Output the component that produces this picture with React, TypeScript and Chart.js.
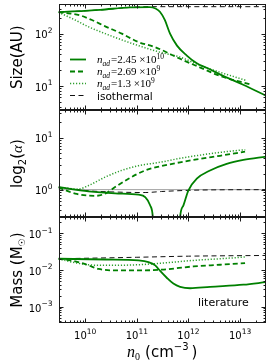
import React, { useEffect, useRef } from 'react';
import { Chart, registerables } from 'chart.js';

Chart.register(...registerables);

// ---------- axis ranges ----------
const X_MIN = 3.04e9;
const X_MAX = 3.18e13;
const SIZE_MIN = 3.39;
const SIZE_MAX = 369;
const ALPHA_MIN = 0.301;
const ALPHA_MAX = 33.2;
const MASS_MIN = 3.55e-4;
const MASS_MAX = 0.283;

// ---------- tick exponents ----------
const xTickExps = [10, 11, 12, 13];
const sizeTickExps = [1, 2];
const alphaTickExps = [0, 1];
const massTickExps = [-3, -2, -1];

// ---------- legend ----------
const legendMantissa = ['2.45', '2.69', '1.3'];
const legendExp = ['10', '9', '9'];
const legendIso = 'isothermal';
const annotationText = 'literature';

// ---------- Size (AU) panel ----------
const sizeSolidN = [3.04e9, 1.95e10, 7.4e10, 1.8e11, 2.3e11, 2.8e11, 3.5e11, 4.4e11, 6.0e11, 9.3e11, 1.45e12, 2.3e12, 4.7e12, 1.15e13, 3.18e13];
const sizeSolidV = [257, 285, 318, 322, 302, 262, 181, 100, 59, 38, 27, 22, 15.5, 10.5, 6.5];
const sizeDashN = [3.04e9, 4.7e9, 7.9e9, 1.35e10, 2.44e10, 5.1e10, 1.07e11, 2.27e11, 6.9e11, 1.7e12, 4.1e12, 1.55e13];
const sizeDashV = [257, 245, 224, 182, 138, 100, 69, 55, 33, 22.4, 15.5, 10.7];
const sizeDotN = [3.04e9, 4.1e9, 6.4e9, 1.16e10, 2.44e10, 5.1e10, 1.07e11, 2.83e11, 6.9e11, 1.7e12, 4.1e12, 1.35e13];
const sizeDotV = [257, 224, 182, 135, 100, 76, 59, 44, 35.5, 24.5, 18.2, 12.6];
const sizeIsoN = [3.04e9, 1.95e10, 7.4e10, 1.8e11, 3.18e13];
const sizeIsoV = [257, 285, 318, 328, 328];

// ---------- log2(alpha) panel ----------
const alphaSolidN = [3.04e9, 1.16e10, 3.8e10, 1.08e11, 1.45e11, 1.81e11, 2.04e11, 2.14e11, 4.0e11, 6.6e11, 6.9e11, 8.0e11, 1.0e12, 1.45e12, 2.62e12, 5.5e12, 1.16e13, 3.18e13];
const alphaSolidV = [1.12, 0.93, 0.85, 0.8, 0.72, 0.5, 0.3, 0.12, null, 0.12, 0.3, 0.5, 0.97, 1.62, 2.33, 3.12, 3.72, 4.3];
const alphaDashN = [3.04e9, 6.4e9, 1.56e10, 2.44e10, 3.8e10, 6.9e10, 1.45e11, 2.95e11, 6.9e11, 1.68e12, 4.1e12, 1.25e13];
const alphaDashV = [1.1, 0.84, 0.76, 0.84, 1.12, 1.62, 2.34, 2.82, 3.35, 3.9, 4.47, 5.35];
const alphaDotN = [3.04e9, 7.4e9, 1.16e10, 2.44e10, 5.1e10, 1.08e11, 2.83e11, 6.9e11, 1.68e12, 4.1e12, 1.26e13];
const alphaDotV = [1.1, 1.03, 1.2, 1.74, 2.34, 2.88, 3.35, 4.0, 4.6, 5.2, 5.85];
const alphaIsoN = [3.04e9, 1.16e10, 3.8e10, 1.45e11, 3.0e11, 1.0e12, 3.0e12, 3.18e13];
const alphaIsoV = [1.12, 0.95, 0.9, 0.88, 0.92, 0.97, 0.99, 1.0];
const alphaRefN = [3.04e9, 3.18e13];
const alphaRefV = [1, 1];

// ---------- Mass panel ----------
const massSolidN = [3.04e9, 2.44e10, 1.08e11, 1.68e11, 2.27e11, 2.83e11, 3.8e11, 5.1e11, 6.9e11, 1.08e12, 2.62e12, 1.16e13, 3.18e13];
const massSolidV = [0.0204, 0.0195, 0.0184, 0.0166, 0.0135, 0.0095, 0.0062, 0.0043, 0.0035, 0.0032, 0.0035, 0.004, 0.0047];
const massDashN = [3.04e9, 6.4e9, 1.16e10, 1.81e10, 3.8e10, 1.08e11, 3.05e11, 1.25e12, 4.1e12, 1.25e13];
const massDashV = [0.0204, 0.0174, 0.0135, 0.0108, 0.0098, 0.0098, 0.0103, 0.0126, 0.014, 0.0155];
const massDotN = [3.04e9, 5.5e9, 1.16e10, 2.44e10, 1.08e11, 3.53e11, 1.25e12, 4.1e12, 1.26e13];
const massDotV = [0.0204, 0.0166, 0.014, 0.0135, 0.014, 0.0158, 0.0184, 0.0204, 0.0228];
const massIsoN = [3.04e9, 1e11, 1e12, 3.18e13];
const massIsoV = [0.0204, 0.0224, 0.024, 0.0251];

// ---------- styles ----------
const GREEN = '#008000';
const STYLE = {
  solid: { borderColor: GREEN, borderWidth: 1.8, borderDash: [] as number[] },
  dashed: { borderColor: GREEN, borderWidth: 1.8, borderDash: [5, 3] },
  dotted: { borderColor: '#2e9e2e', borderWidth: 1.5, borderDash: [1.2, 1.8] },
  iso: { borderColor: '#111111', borderWidth: 1, borderDash: [5, 3.5] },
  ref: { borderColor: '#a0a0a0', borderWidth: 1, borderDash: [] as number[] },
};

const SANS = '"DejaVu Sans"';
const SERIF = '"Liberation Serif"';

function mk(n: number[], v: (number | null)[], yAxisID: string, style: any, order: number) {
  return {
    data: n.map((x, i) => ({ x, y: v[i] })),
    yAxisID,
    xAxisID: 'x',
    ...style,
    order,
    fill: false,
    pointRadius: 0,
    spanGaps: false,
    cubicInterpolationMode: 'monotone',
  };
}

type Seg = { t: string; f: string; dy?: number; gap?: number };

function segWidth(ctx: CanvasRenderingContext2D, segs: Seg[]) {
  let w = 0;
  for (const s of segs) {
    ctx.font = s.f;
    w += ctx.measureText(s.t).width + (s.gap || 0);
  }
  return w;
}

function drawSegs(ctx: CanvasRenderingContext2D, segs: Seg[], x: number, y: number) {
  let cx = x;
  ctx.textAlign = 'left';
  ctx.textBaseline = 'alphabetic';
  for (const s of segs) {
    ctx.font = s.f;
    ctx.fillText(s.t, cx, y + (s.dy || 0));
    cx += ctx.measureText(s.t).width + (s.gap || 0);
  }
}

function powSegs(exp: number, base: number, sup: number): Seg[] {
  const e = exp < 0 ? '\u2212' + Math.abs(exp) : String(exp);
  return [
    { t: '10', f: `${base}px ${SANS}` },
    { t: e, f: `${sup}px ${SANS}`, dy: -5.5 },
  ];
}

function drawRotated(ctx: CanvasRenderingContext2D, segs: Seg[], baseX: number, centerY: number) {
  ctx.save();
  ctx.translate(baseX, centerY);
  ctx.rotate(-Math.PI / 2);
  const w = segWidth(ctx, segs);
  drawSegs(ctx, segs, -w / 2, 0);
  ctx.restore();
}

const framePlugin = {
  id: 'frameTicks',
  afterDraw(chart: any) {
    const ctx: CanvasRenderingContext2D = chart.ctx;
    const xs = chart.scales.x;
    const { left, right } = chart.chartArea;
    const panels = [
      { s: chart.scales.ySize, exps: sizeTickExps },
      { s: chart.scales.yAlpha, exps: alphaTickExps },
      { s: chart.scales.yMass, exps: massTickExps },
    ];
    const L = Math.round(left) + 0.5;
    const R = Math.round(right) - 0.5;
    ctx.save();
    ctx.strokeStyle = '#1a1a1a';
    ctx.fillStyle = '#000';
    ctx.lineWidth = 1;
    const line = (x1: number, y1: number, x2: number, y2: number) => {
      ctx.beginPath();
      ctx.moveTo(x1, y1);
      ctx.lineTo(x2, y2);
      ctx.stroke();
    };
    for (const p of panels) {
      const T = Math.round(p.s.top) + 0.5;
      const B = Math.round(p.s.bottom) - 0.5;
      ctx.strokeRect(L, T, R - L, B - T);
      for (let e = 9; e <= 13; e++) {
        for (let m = 1; m <= 9; m++) {
          const v = m * Math.pow(10, e);
          if (v < xs.min || v > xs.max) continue;
          const px = Math.round(xs.getPixelForValue(v)) + 0.5;
          const len = m === 1 ? 4 : 2;
          line(px, T, px, T + len);
          line(px, B, px, B - len);
        }
      }
      const lo = Math.floor(Math.log10(p.s.min));
      const hi = Math.ceil(Math.log10(p.s.max));
      for (let e = lo; e <= hi; e++) {
        for (let m = 1; m <= 9; m++) {
          const v = m * Math.pow(10, e);
          if (v < p.s.min || v > p.s.max) continue;
          const py = Math.round(p.s.getPixelForValue(v)) + 0.5;
          const len = m === 1 ? 4 : 2;
          line(L, py, L + len, py);
          line(R, py, R - len, py);
        }
      }
      for (const e of p.exps) {
        const py = p.s.getPixelForValue(Math.pow(10, e));
        const segs = powSegs(e, 10, 7.5);
        const w = segWidth(ctx, segs);
        drawSegs(ctx, segs, left - 6 - w, py + 4.8);
      }
    }
    // x tick labels
    const xb = chart.scales.yMass.bottom;
    for (const e of xTickExps) {
      const px = xs.getPixelForValue(Math.pow(10, e));
      const segs = powSegs(e, 10, 7.5);
      const w = segWidth(ctx, segs);
      drawSegs(ctx, segs, px - w / 2, xb + 16);
    }
    // x title
    const xt: Seg[] = [
      { t: 'n', f: `italic 16px ${SERIF}` },
      { t: '0', f: `10px ${SERIF}`, dy: 3, gap: 5 },
      { t: '(cm', f: `15px ${SANS}` },
      { t: '\u22123', f: `10px ${SANS}`, dy: -7, gap: 3 },
      { t: ')', f: `15px ${SANS}` },
    ];
    const xtw = segWidth(ctx, xt);
    drawSegs(ctx, xt, (left + right) / 2 - xtw / 2, xb + 34);

    // y titles
    const sz = chart.scales.ySize;
    const al = chart.scales.yAlpha;
    const ms = chart.scales.yMass;
    drawRotated(ctx, [{ t: 'Size(AU)', f: `15px ${SANS}` }], 22, (sz.top + sz.bottom) / 2);
    drawRotated(
      ctx,
      [
        { t: 'log', f: `15px ${SANS}` },
        { t: '2', f: `10px ${SANS}`, dy: 3.5 },
        { t: '(', f: `15px ${SANS}` },
        { t: '\u03b1', f: `italic 15px ${SERIF}` },
        { t: ')', f: `15px ${SANS}` },
      ],
      22,
      (al.top + al.bottom) / 2
    );
    drawRotated(
      ctx,
      [
        { t: 'Mass (M', f: `15px ${SANS}` },
        { t: '\u2609', f: `9px ${SANS}`, dy: 3 },
        { t: ')', f: `15px ${SANS}` },
      ],
      22,
      (ms.top + ms.bottom) / 2
    );

    // legend
    const rows = [sz.top + 55.5, sz.top + 67.5, sz.top + 79.5, sz.top + 91.5];
    const styles = [STYLE.solid, STYLE.dashed, STYLE.dotted, STYLE.iso];
    const sx0 = left + 11.5;
    const sx1 = left + 27.5;
    const tx = left + 38.5;
    for (let i = 0; i < 4; i++) {
      const st = styles[i];
      ctx.save();
      ctx.strokeStyle = st.borderColor;
      ctx.lineWidth = st.borderWidth;
      ctx.setLineDash(st.borderDash);
      line(sx0, rows[i], sx1, rows[i]);
      ctx.restore();
      if (i < 3) {
        drawSegs(
          ctx,
          [
            { t: 'n', f: `italic 11px ${SERIF}` },
            { t: 'ad', f: `italic 7.5px ${SERIF}`, dy: 2.5, gap: 1 },
            { t: '=' + legendMantissa[i] + ' \u00d710', f: `11px ${SERIF}` },
            { t: legendExp[i], f: `7.5px ${SERIF}`, dy: -4.5 },
          ],
          tx,
          rows[i] + 3.5
        );
      } else {
        drawSegs(ctx, [{ t: legendIso, f: `10.5px ${SANS}` }], tx, rows[i] + 4);
      }
    }
    // annotation
    drawSegs(ctx, [{ t: annotationText, f: `11px ${SANS}` }], right - 68, ms.bottom - 17);
    ctx.restore();
  },
};

export default function App() {
  const ref = useRef<HTMLCanvasElement | null>(null);
  useEffect(() => {
    const canvas = ref.current;
    if (!canvas) return;
    const hidden = {
      grid: { display: false },
      border: { display: false },
      ticks: { display: false },
    };
    const chart = new Chart(canvas, {
      type: 'line',
      data: {
        datasets: [
          mk(sizeSolidN, sizeSolidV, 'ySize', STYLE.solid, 1),
          mk(sizeDashN, sizeDashV, 'ySize', STYLE.dashed, 2),
          mk(sizeDotN, sizeDotV, 'ySize', STYLE.dotted, 3),
          mk(sizeIsoN, sizeIsoV, 'ySize', STYLE.iso, 4),
          mk(alphaSolidN, alphaSolidV, 'yAlpha', STYLE.solid, 1),
          mk(alphaDashN, alphaDashV, 'yAlpha', STYLE.dashed, 2),
          mk(alphaDotN, alphaDotV, 'yAlpha', STYLE.dotted, 3),
          mk(alphaIsoN, alphaIsoV, 'yAlpha', STYLE.iso, 4),
          mk(alphaRefN, alphaRefV, 'yAlpha', STYLE.ref, 5),
          mk(massSolidN, massSolidV, 'yMass', STYLE.solid, 1),
          mk(massDashN, massDashV, 'yMass', STYLE.dashed, 2),
          mk(massDotN, massDotV, 'yMass', STYLE.dotted, 3),
          mk(massIsoN, massIsoV, 'yMass', STYLE.iso, 4),
        ] as any,
      },
      options: {
        animation: false,
        responsive: false,
        devicePixelRatio: 1,
        events: [],
        layout: { padding: { top: 4, right: 9, left: 0, bottom: 0 } },
        plugins: { legend: { display: false }, tooltip: { enabled: false } },
        scales: {
          x: {
            type: 'logarithmic',
            position: 'bottom',
            min: X_MIN,
            max: X_MAX,
            ...hidden,
            afterFit: (s: any) => {
              s.height = 38.7;
            },
          },
          yMass: {
            type: 'logarithmic',
            position: 'left',
            stack: 'panels',
            stackWeight: 1,
            min: MASS_MIN,
            max: MASS_MAX,
            ...hidden,
            afterFit: (s: any) => {
              s.width = 58.5;
            },
          },
          yAlpha: {
            type: 'logarithmic',
            position: 'left',
            stack: 'panels',
            stackWeight: 1,
            min: ALPHA_MIN,
            max: ALPHA_MAX,
            ...hidden,
            afterFit: (s: any) => {
              s.width = 58.5;
            },
          },
          ySize: {
            type: 'logarithmic',
            position: 'left',
            stack: 'panels',
            stackWeight: 1,
            min: SIZE_MIN,
            max: SIZE_MAX,
            ...hidden,
            afterFit: (s: any) => {
              s.width = 58.5;
            },
          },
        } as any,
      },
      plugins: [framePlugin],
    });
    return () => chart.destroy();
  }, []);
  return (
    <div style={{ position: 'absolute', left: 0, top: 0, width: 275, height: 362, background: '#fff' }}>
      <canvas ref={ref} width={275} height={362} style={{ width: 275, height: 362, display: 'block' }} />
    </div>
  );
}
